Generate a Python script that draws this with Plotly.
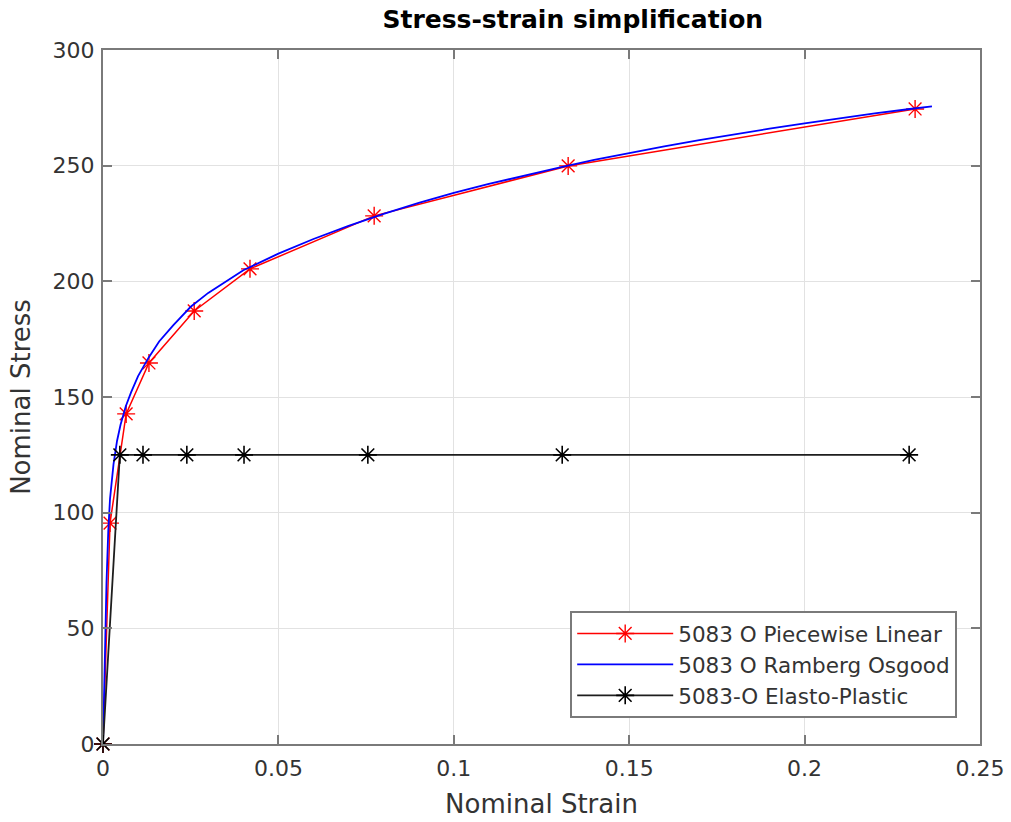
import plotly.graph_objects as go

# Piecewise linear (red, with markers)
pl_strain = [0.0, 0.0020, 0.0066, 0.0131, 0.0260, 0.0419, 0.0773, 0.1326, 0.2315]
pl_stress = [0.0, 95.5, 142.7, 164.7, 187.2, 205.4, 228.3, 249.9, 274.5]

# Ramberg-Osgood (blue line)
ro_strain = [0.0, 0.0005, 0.0010, 0.0015, 0.0020, 0.0030, 0.0040, 0.0050, 0.0065, 0.0080,
             0.0100, 0.0130, 0.0160, 0.0200, 0.0250, 0.0300, 0.0350, 0.0400, 0.0500,
             0.0600, 0.0700, 0.0800, 0.0900, 0.1000, 0.1100, 0.1200, 0.1300, 0.1400,
             0.1500, 0.1600, 0.1700, 0.1800, 0.1900, 0.2000, 0.2100, 0.2200, 0.2300, 0.2363]
ro_stress = [0.0, 36, 70, 92, 106, 121, 131, 138, 146, 152,
             159, 167, 174, 181, 189, 195, 200, 204.8, 212,
             218.3, 224, 229.2, 233.9, 238.2, 242.1, 245.8, 249.2, 252.5,
             255.5, 258.3, 261, 263.6, 266, 268.3, 270.5, 272.6, 274.5, 275.6]

# Elasto-plastic (black, with markers)
ep_strain = [0.0, 0.0048, 0.0114, 0.0239, 0.0402, 0.0755, 0.1309, 0.2298]
ep_stress = [0.0, 125, 125, 125, 125, 125, 125, 125]

x_ticks = [0, 0.05, 0.1, 0.15, 0.2, 0.25]
x_ticklabels = ["0", "0.05", "0.1", "0.15", "0.2", "0.25"]
y_ticks = [0, 50, 100, 150, 200, 250, 300]

FONT = "DejaVu Sans, Liberation Sans, Arial, sans-serif"

fig = go.Figure()
fig.add_trace(go.Scatter(
    x=pl_strain, y=pl_stress, mode="lines+markers", name="5083 O Piecewise Linear",
    line=dict(color="#ff0000", width=1.5), cliponaxis=False,
    marker=dict(symbol="asterisk-open", size=15, color="#ff0000", line=dict(color="#ff0000", width=1.4)),
))
fig.add_trace(go.Scatter(
    x=ro_strain, y=ro_stress, mode="lines", name="5083 O Ramberg Osgood",
    line=dict(color="#0000ff", width=1.8), cliponaxis=False,
))
fig.add_trace(go.Scatter(
    x=ep_strain, y=ep_stress, mode="lines+markers", name="5083-O Elasto-Plastic",
    line=dict(color="#1e1e1e", width=1.8), cliponaxis=False,
    marker=dict(symbol="asterisk-open", size=15, color="#000000", line=dict(color="#000000", width=1.6)),
))

axis_common = dict(
    showgrid=True, gridcolor="#e2e2e2", gridwidth=1,
    showline=True, linecolor="#7a7a7a", linewidth=2, mirror="ticks",
    ticks="inside", ticklen=9, tickcolor="#7a7a7a", tickwidth=1.5,
    zeroline=False, automargin=False,
    tickfont=dict(family=FONT, size=22, color="#333333"),
)

fig.update_layout(
    width=1011, height=822,
    paper_bgcolor="white", plot_bgcolor="white",
    margin=dict(l=103, r=31, t=50, b=78, autoexpand=False),
    title=dict(text="<b>Stress-strain simplification</b>", x=0.5357, xanchor="center",
               xref="paper", y=0.976, yanchor="middle",
               font=dict(family=FONT, size=25, color="#000000")),
    xaxis=dict(range=[0, 0.25], tickvals=x_ticks, ticktext=x_ticklabels,
               ticklabelstandoff=4,
               title=dict(text="Nominal Strain", standoff=14,
                          font=dict(family=FONT, size=26, color="#333333")),
               **axis_common),
    yaxis=dict(range=[0, 300], tickvals=y_ticks,
               ticklabelstandoff=2,
               title=dict(text="Nominal Stress", standoff=14,
                          font=dict(family=FONT, size=26, color="#333333")),
               **axis_common),
    legend=dict(x=0.974, y=0.0375, xanchor="right", yanchor="bottom",
                bgcolor="white", bordercolor="#7a7a7a", borderwidth=2,
                itemwidth=96, tracegroupgap=0,
                font=dict(family=FONT, size=21.5, color="#333333")),
    showlegend=True,
)

fig.write_html("out.html")
